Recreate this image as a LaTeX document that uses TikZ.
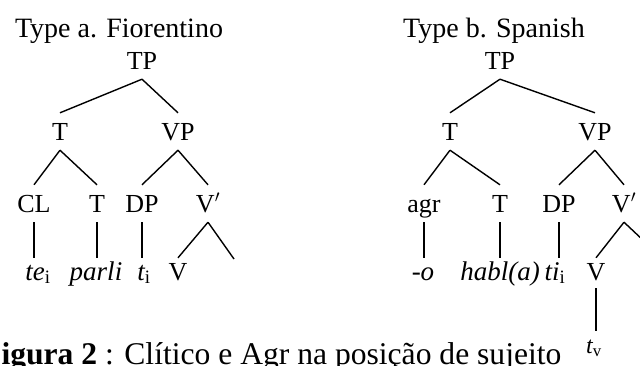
\documentclass[tikz,border=0pt]{standalone}
\usepackage{fontspec}
\setmainfont{Liberation Serif}

\begin{document}
\begin{tikzpicture}[x=1pt, y=-1pt,
    cat/.style={anchor=base, inner xsep=1pt, inner ysep=10pt, text height=17pt, text depth=0pt, font=\fontsize{26}{28}\selectfont},
    word/.style={anchor=base, inner xsep=1pt, inner ysep=8pt, text height=14pt, text depth=0pt, font=\fontsize{27}{29}\selectfont\itshape},
    title/.style={anchor=base, inner sep=0pt, font=\fontsize{28}{30}\selectfont},
    branch/.style={line width=1.4pt}
    ]
    \useasboundingbox (0,0) rectangle (640,365);
    \clip (0,0) rectangle (640,365);

    % Type a
    \node[title] (a-title) at (119,37) {Type a. Fiorentino};
    \node[cat] (a-TP) at (142,69) {TP};
    \node[cat] (a-T) at (60,140) {T};
    \node[cat] (a-VP) at (178,140) {VP};
    \node[cat] (a-CL) at (34,212) {CL};
    \node[cat] (a-T2) at (97,212) {T};
    \node[cat] (a-DP) at (142,212) {DP};
    \node[cat] (a-Vbar) at (208,212) {V$'$};
    \node[word] (a-te) at (38,280) {te\textsubscript{\upshape i}};
    \node[word] (a-parli) at (96,280) {parli};
    \node[word] (a-t) at (144,280) {t\textsubscript{\upshape i}};
    \node[word, font=\fontsize{26}{28}\selectfont] (a-V) at (178,280) {V};
    \coordinate (a-end) at (234,259);

    \draw[branch] (a-TP.south) -- (a-T.north);
    \draw[branch] (a-TP.south) -- (a-VP.north);
    \draw[branch] (a-T.south) -- (a-CL.north);
    \draw[branch] (a-T.south) -- (a-T2.north);
    \draw[branch] (a-VP.south) -- (a-DP.north);
    \draw[branch] (a-VP.south) -- (a-Vbar.north);
    \draw[branch] (a-CL.south) -- (a-CL.south |- a-te.north);
    \draw[branch] (a-T2.south) -- (a-T2.south |- a-parli.north);
    \draw[branch] (a-DP.south) -- (a-DP.south |- a-t.north);
    \draw[branch] (a-Vbar.south) -- (a-V.north);
    \draw[branch] (a-Vbar.south) -- (a-end);

    % Type b
    \node[title] (b-title) at (494,37) {Type b. Spanish};
    \node[cat] (b-TP) at (500,69) {TP};
    \node[cat] (b-T) at (450,140) {T};
    \node[cat] (b-VP) at (595,140) {VP};
    \node[cat] (b-agr) at (424,212) {agr};
    \node[cat] (b-T2) at (500,212) {T};
    \node[cat] (b-DP) at (559,212) {DP};
    \node[cat] (b-Vbar) at (624,212) {V$'$};
    \node[word] (b-o) at (423,280) {-o};
    \node[word] (b-habl) at (500,280) {habl(a)};
    \node[word] (b-ti) at (555,280) {ti\textsubscript{\upshape i}};
    \node[word, font=\fontsize{26}{28}\selectfont] (b-V) at (596,280) {V};
    \node[word, font=\fontsize{24}{26}\selectfont\itshape] (b-tv) at (594,353) {t\textsubscript{\upshape v}};
    \coordinate (b-end) at (662,258);

    \draw[branch] (b-TP.south) -- (b-T.north);
    \draw[branch] (b-TP.south) -- (b-VP.north);
    \draw[branch] (b-T.south) -- (b-agr.north);
    \draw[branch] (b-T.south) -- (b-T2.north);
    \draw[branch] (b-VP.south) -- (b-DP.north);
    \draw[branch] (b-VP.south) -- (b-Vbar.north);
    \draw[branch] (b-agr.south) -- (b-agr.south |- b-o.north);
    \draw[branch] (b-T2.south) -- (b-T2.south |- b-habl.north);
    \draw[branch] (b-DP.south) -- (b-DP.south |- b-ti.north);
    \draw[branch] (b-Vbar.south) -- (b-V.north);
    \draw[branch] (b-Vbar.south) -- (b-end);
    \draw[branch] (b-V.south) -- (b-V.south |- b-tv.north);

    % caption
    \node[anchor=base west, inner sep=0pt, font=\fontsize{31.6}{34}\selectfont] (caption) at (-18,364)
      {\textbf{Figura 2} : Clítico e Agr na posição de sujeito};
  \end{tikzpicture}
\end{document}
